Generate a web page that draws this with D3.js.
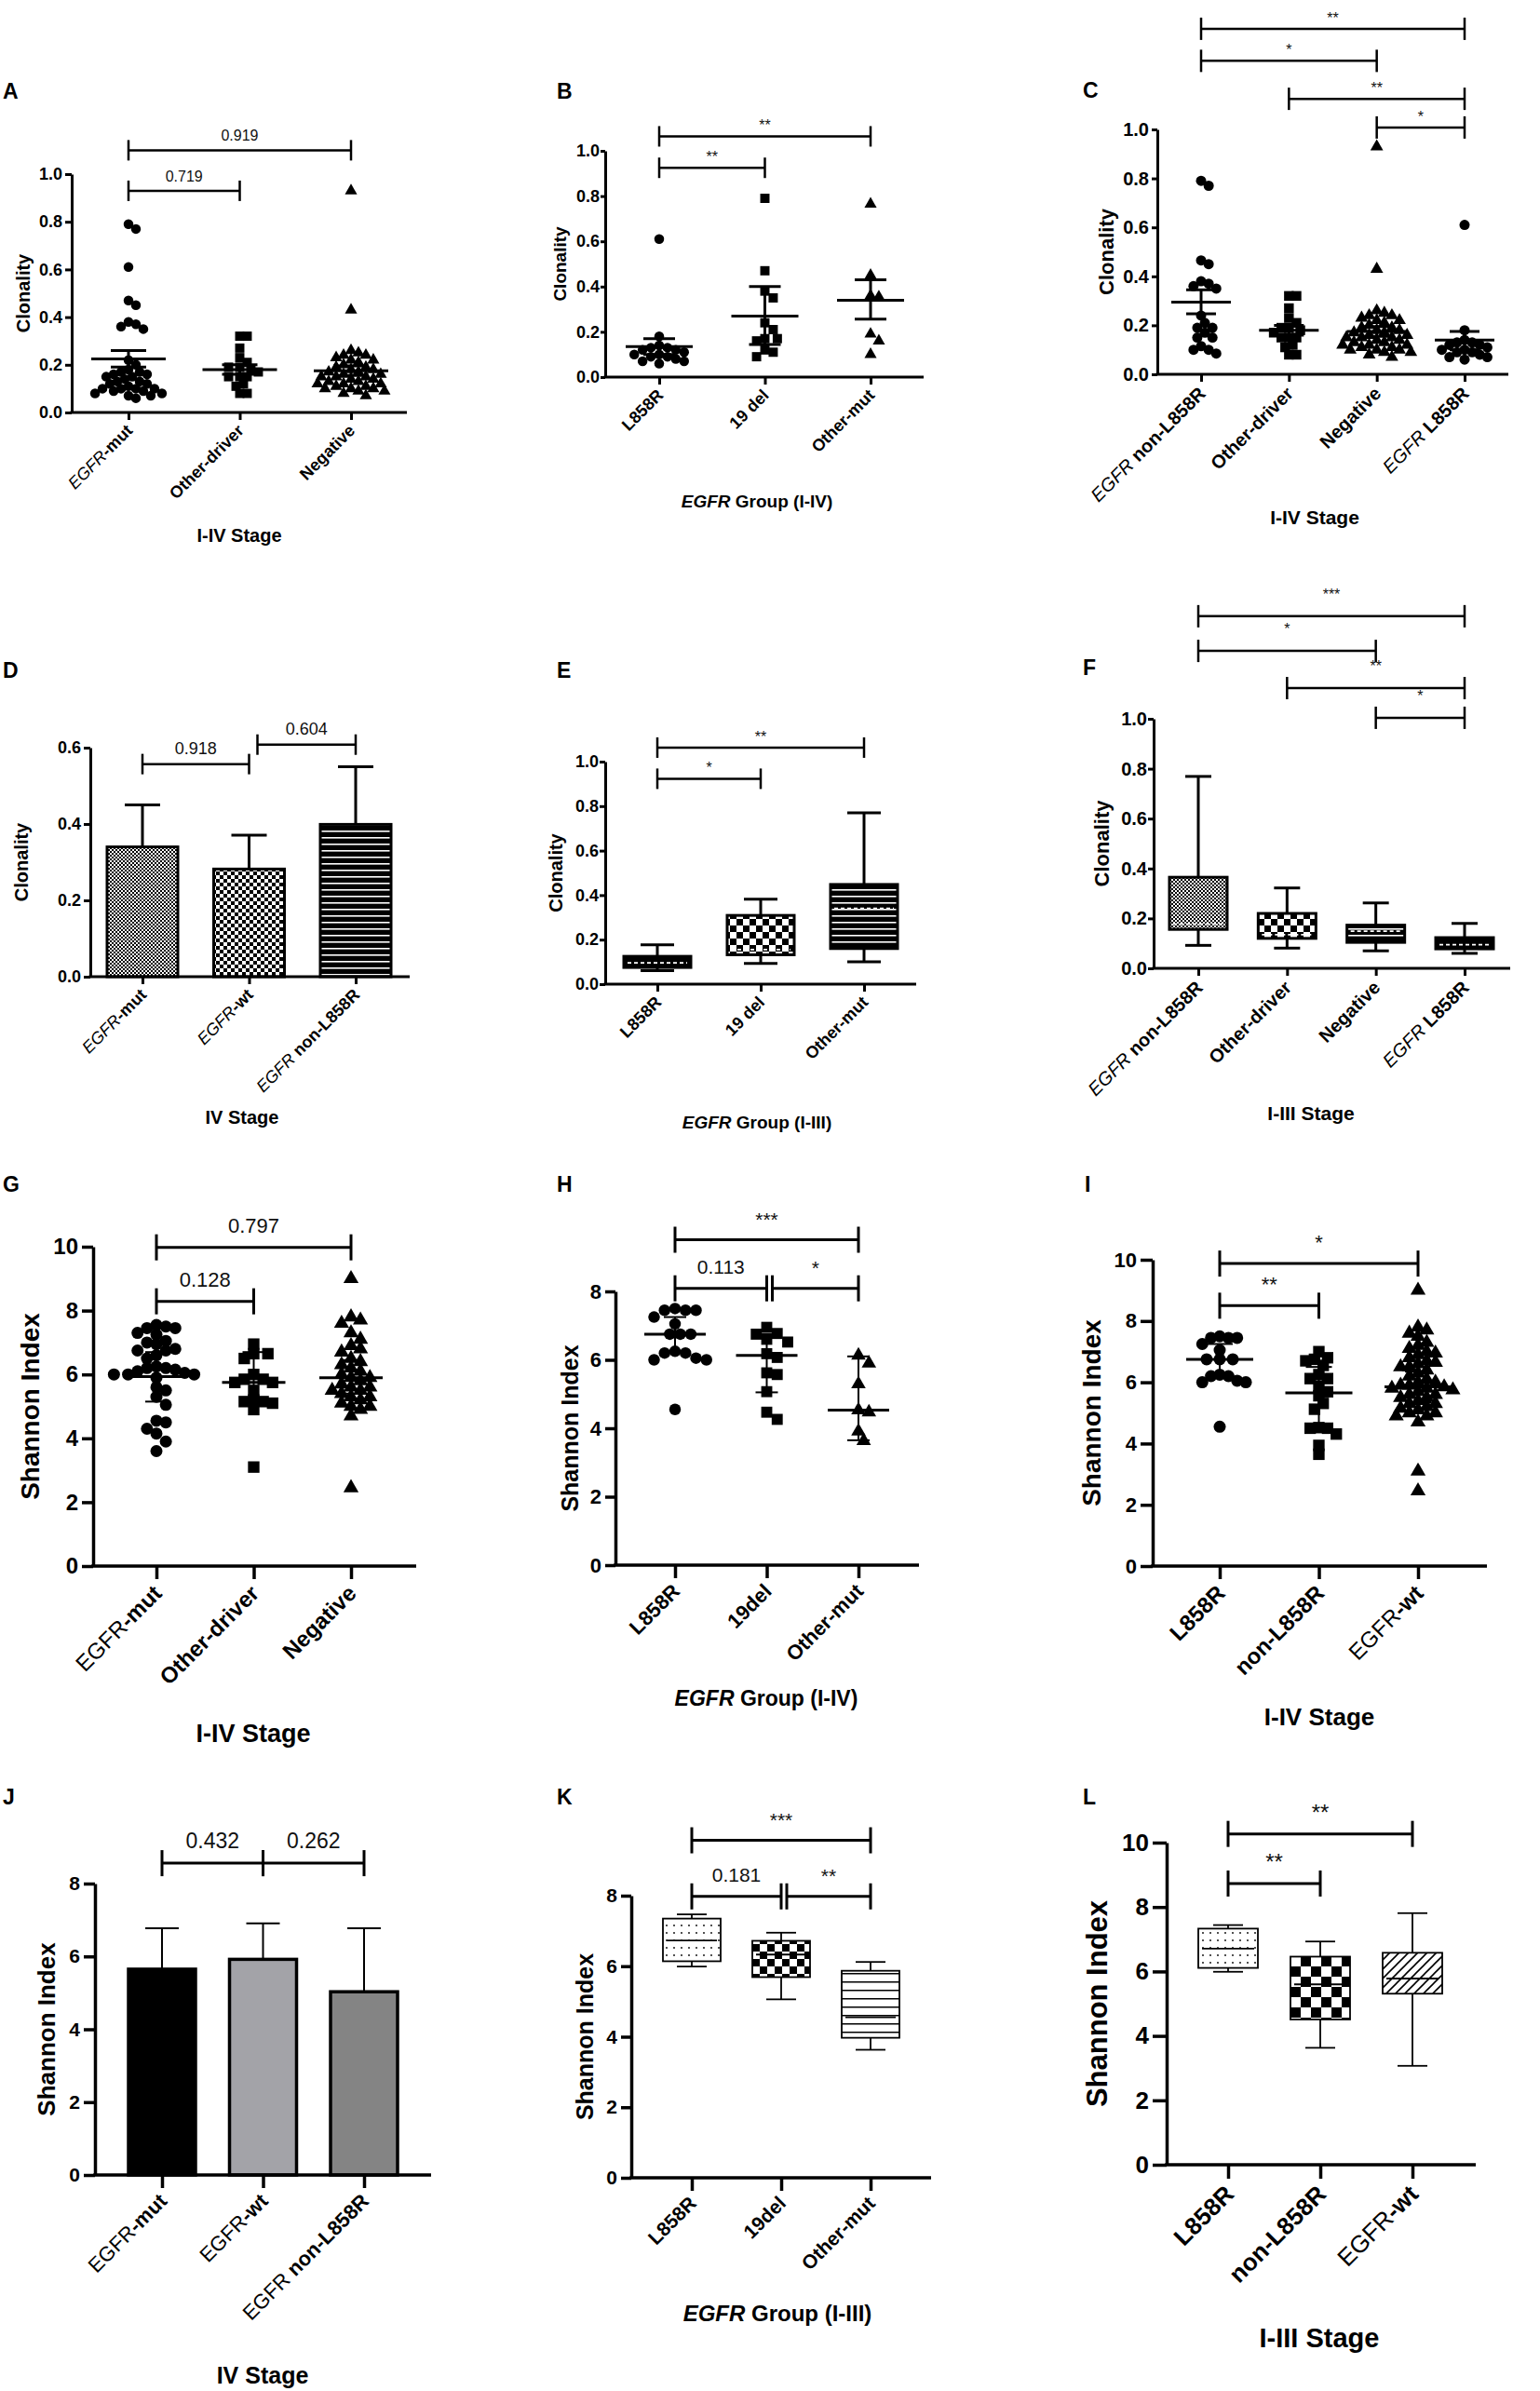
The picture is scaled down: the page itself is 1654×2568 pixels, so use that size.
<!DOCTYPE html>
<html>
<head>
<meta charset="utf-8">
<title>Clonality and Shannon index</title>
<script src="https://cdnjs.cloudflare.com/ajax/libs/d3/7.8.5/d3.min.js"></script>
<style>
  body { margin: 0; background: #fff; }
  text { font-family: "Liberation Sans", Arial, Helvetica, sans-serif; }
</style>
</head>
<body>
<script>
// ---------- data ----------
// A: clonality, I-IV stage
var aCats = ["EGFR-mut", "Other-driver", "Negative"];
var aEgfrMut = [0.79, 0.77, 0.61, 0.47, 0.45, 0.38, 0.37, 0.36, 0.35, 0.22, 0.20, 0.18, 0.17, 0.17, 0.16, 0.16, 0.15, 0.15, 0.14, 0.13, 0.13, 0.12, 0.12, 0.11, 0.10, 0.10, 0.10, 0.10, 0.09, 0.09, 0.08, 0.08, 0.07, 0.07, 0.06];
var aOtherDriver = [0.32, 0.32, 0.27, 0.23, 0.21, 0.19, 0.19, 0.18, 0.17, 0.15, 0.15, 0.15, 0.12, 0.11, 0.08, 0.08];
var aNegative = [0.93, 0.43, 0.26, 0.25, 0.24, 0.24, 0.23, 0.22, 0.22, 0.21, 0.20, 0.19, 0.19, 0.18, 0.18, 0.17, 0.17, 0.16, 0.16, 0.15, 0.15, 0.15, 0.14, 0.14, 0.13, 0.13, 0.12, 0.12, 0.12, 0.11, 0.11, 0.10, 0.10, 0.10, 0.09, 0.09, 0.08, 0.07];
var aMean = [0.225, 0.18, 0.175];
var aLow = [0.19, 0.16, 0.155];
var aHigh = [0.26, 0.20, 0.195];
var aPairs = [[0, 1], [0, 2]];
var aPairY = [0.93, 1.10];
var aPairText = ["0.719", "0.919"];

// B: clonality by EGFR group
var bCats = ["L858R", "19 del", "Other-mut"];
var bL858R = [0.61, 0.18, 0.14, 0.13, 0.13, 0.12, 0.12, 0.11, 0.10, 0.10, 0.09, 0.09, 0.08, 0.07, 0.07, 0.06];
var b19del = [0.79, 0.47, 0.38, 0.35, 0.24, 0.21, 0.17, 0.17, 0.16, 0.12, 0.11, 0.09];
var bOtherMut = [0.765, 0.45, 0.36, 0.355, 0.19, 0.16, 0.10];
var bMean = [0.135, 0.27, 0.34];
var bLow = [0.10, 0.144, 0.256];
var bHigh = [0.17, 0.40, 0.43];
var bPairs = [[0, 1], [0, 2]];
var bPairY = [0.925, 1.064];
var bPairText = ["**", "**"];

// C
var cCats = ["EGFR non-L858R", "Other-driver", "Negative", "EGFR L858R"];
var cNonL858R = [0.79, 0.77, 0.465, 0.45, 0.38, 0.37, 0.36, 0.35, 0.24, 0.21, 0.19, 0.19, 0.17, 0.15, 0.15, 0.115, 0.10, 0.10, 0.085];
var cMean = [0.295, 0.18, 0.175, 0.14];
var cLow = [0.247, 0.16, 0.155, 0.10];
var cHigh = [0.345, 0.20, 0.195, 0.175];
var cPairs = [[0, 3], [0, 2], [1, 3], [2, 3]];
var cPairY = [1.411, 1.28, 1.125, 1.008];
var cPairText = ["**", "*", "**", "*"];

// D: bars, IV stage
var dCats = ["EGFR-mut", "EGFR-wt", "EGFR non-L858R"];
var dMean = [0.34, 0.282, 0.399];
var dErr = [0.45, 0.371, 0.55];
var dPairs = [[0, 1], [1, 2]];
var dPairY = [0.557, 0.608];
var dPairText = ["0.918", "0.604"];

// E: boxes, I-III
var eCats = ["L858R", "19 del", "Other-mut"];
var eMin = [0.061, 0.093, 0.10];
var eQ1 = [0.075, 0.132, 0.16];
var eMed = [0.096, 0.155, 0.34];
var eQ3 = [0.125, 0.309, 0.448];
var eMax = [0.177, 0.382, 0.77];
var ePairs = [[0, 1], [0, 2]];
var ePairY = [0.923, 1.063];
var ePairText = ["*", "**"];

// F: boxes, I-III stage
var fCats = ["EGFR non-L858R", "Other-driver", "Negative", "EGFR L858R"];
var fMin = [0.092, 0.081, 0.07, 0.06];
var fQ1 = [0.156, 0.12, 0.104, 0.078];
var fMed = [0.178, 0.135, 0.149, 0.095];
var fQ3 = [0.365, 0.22, 0.173, 0.123];
var fMax = [0.769, 0.322, 0.262, 0.18];
var fPairs = [[0, 3], [0, 2], [1, 3], [2, 3]];
var fPairY = [1.411, 1.272, 1.123, 1.004];
var fPairText = ["***", "*", "**", "*"];

// G: Shannon index, I-IV stage
var gCats = ["EGFR-mut", "Other-driver", "Negative"];
var gEgfrMut = [7.55, 7.5, 7.45, 7.45, 7.3, 7.25, 7.05, 7.0, 6.95, 6.8, 6.75, 6.75, 6.6, 6.5, 6.25, 6.2, 6.2, 6.15, 6.1, 6.05, 6.0, 6.0, 6.0, 5.9, 5.6, 5.5, 5.3, 5.05, 4.55, 4.5, 4.3, 4.15, 3.9, 3.6];
var gOtherDriver = [6.95, 6.65, 6.65, 6.5, 6.0, 5.85, 5.85, 5.75, 5.75, 5.5, 5.2, 5.15, 5.15, 5.1, 4.9, 3.1];
var gNegative = [9.0, 7.8, 7.7, 7.6, 7.3, 7.1, 6.9, 6.8, 6.7, 6.5, 6.4, 6.3, 6.2, 6.1, 6.0, 5.9, 5.9, 5.8, 5.7, 5.6, 5.6, 5.5, 5.5, 5.4, 5.3, 5.3, 5.2, 5.1, 5.0, 5.0, 4.9, 4.7, 2.45];
var gMean = [5.93, 5.75, 5.9];
var gLow = [5.15, 5.2, 5.4];
var gHigh = [6.7, 6.7, 6.45];
var gPairs = [[0, 1], [0, 2]];
var gPairY = [8.29, 9.98];
var gPairText = ["0.128", "0.797"];

// H
var hCats = ["L858R", "19del", "Other-mut"];
var hL858R = [7.5, 7.45, 7.45, 7.45, 7.25, 7.05, 6.75, 6.75, 6.75, 6.25, 6.2, 6.2, 6.05, 6.0, 6.0, 4.55];
var h19del = [6.95, 6.77, 6.75, 6.6, 6.52, 6.18, 6.07, 5.62, 5.57, 5.07, 4.47, 4.26];
var hOtherMut = [6.13, 5.9, 5.29, 4.53, 4.47, 3.91, 3.63];
var hMean = [6.75, 6.13, 4.53];
var hLow = [6.25, 5.05, 3.65];
var hHigh = [7.25, 6.75, 6.1];
var hPairs = [[0, 1], [1, 2], [0, 2]];
var hPairY = [8.09, 8.09, 9.51];
var hPairText = ["0.113", "*", "***"];

// I
var iCats = ["L858R", "non-L858R", "EGFR-wt"];
var iNonL858R = [7.0, 6.8, 6.75, 6.7, 6.55, 6.25, 6.12, 6.12, 5.87, 5.69, 5.56, 5.31, 5.12, 4.52, 4.5, 4.5, 4.31, 3.94, 3.65];
var iEgfrWt = [9.0, 7.8, 7.7, 7.6, 7.5, 7.3, 7.2, 7.1, 7.0, 6.95, 6.9, 6.8, 6.7, 6.65, 6.6, 6.5, 6.5, 6.4, 6.3, 6.2, 6.1, 6.0, 6.0, 5.9, 5.9, 5.85, 5.8, 5.8, 5.75, 5.7, 5.6, 5.6, 5.5, 5.5, 5.4, 5.3, 5.3, 5.2, 5.15, 5.1, 5.0, 5.0, 4.9, 4.9, 4.7, 3.1, 2.45];
var iMean = [6.75, 5.65, 5.85];
var iLow = [6.25, 4.5, 5.35];
var iHigh = [7.25, 6.5, 6.35];
var iPairs = [[0, 1], [0, 2]];
var iPairY = [8.5, 9.875];
var iPairText = ["**", "*"];

// J: bars, IV stage
var jCats = ["EGFR-mut", "EGFR-wt", "EGFR non-L858R"];
var jMean = [5.65, 5.92, 5.03];
var jErr = [6.77, 6.91, 6.77];
var jPairs = [[0, 1], [1, 2]];
var jPairY = [8.56, 8.56];
var jPairText = ["0.432", "0.262"];

// K: boxes
var kCats = ["L858R", "19del", "Other-mut"];
var kMin = [5.99, 5.06, 3.63];
var kQ1 = [6.14, 5.69, 3.97];
var kMed = [6.73, 6.33, 4.55];
var kQ3 = [7.35, 6.72, 5.87];
var kMax = [7.47, 6.95, 6.12];
var kPairs = [[0, 1], [1, 2], [0, 2]];
var kPairY = [7.98, 7.98, 9.57];
var kPairText = ["0.181", "**", "***"];

// L: boxes
var lCats = ["L858R", "non-L858R", "EGFR-wt"];
var lMin = [5.99, 3.63, 3.07];
var lQ1 = [6.11, 4.51, 5.31];
var lMed = [6.71, 5.6, 5.78];
var lQ3 = [7.33, 6.46, 6.58];
var lMax = [7.44, 6.93, 7.81];
var lPairs = [[0, 1], [0, 2]];
var lPairY = [8.73, 10.27];
var lPairText = ["**", "**"];

var clonTicks = [0, 0.2, 0.4, 0.6, 0.8, 1.0];
var dTicks = [0, 0.2, 0.4, 0.6];
var shan10Ticks = [0, 2, 4, 6, 8, 10];
var shan8Ticks = [0, 2, 4, 6, 8];

// ---------- drawing ----------
var svg = d3.select("body").append("svg")
  .attr("width", 1654).attr("height", 2568);
svg.append("rect").attr("width", 1654).attr("height", 2568).attr("fill", "#fff");

var defs = svg.append("defs");
function pattern(id, w, h, draw) {
  var p = defs.append("pattern").attr("id", id)
    .attr("patternUnits", "userSpaceOnUse").attr("width", w).attr("height", h);
  draw(p);
}
function checker(id, n) {
  pattern(id, 2 * n, 2 * n, function (p) {
    p.append("rect").attr("width", 2 * n).attr("height", 2 * n).attr("fill", "#fff");
    p.append("rect").attr("width", n).attr("height", n).attr("fill", "#000");
    p.append("rect").attr("x", n).attr("y", n).attr("width", n).attr("height", n).attr("fill", "#000");
  });
}
checker("chk2", 2);
checker("chk4", 4);
checker("chk7", 7);
checker("chk8", 8);
checker("chk11", 11);
pattern("hBlack", 10, 7, function (p) {
  p.append("rect").attr("width", 10).attr("height", 7).attr("fill", "#000");
  p.append("rect").attr("y", 3).attr("width", 10).attr("height", 1.6).attr("fill", "#fff");
});
pattern("hWhite", 10, 9, function (p) {
  p.append("rect").attr("width", 10).attr("height", 9).attr("fill", "#fff");
  p.append("rect").attr("y", 4).attr("width", 10).attr("height", 1.5).attr("fill", "#000");
});
pattern("dots", 8, 8, function (p) {
  p.append("rect").attr("width", 8).attr("height", 8).attr("fill", "#fff");
  p.append("circle").attr("cx", 4).attr("cy", 4).attr("r", 0.9).attr("fill", "#000");
});
pattern("diag", 10, 10, function (p) {
  p.append("rect").attr("width", 10).attr("height", 10).attr("fill", "#fff");
  p.append("path").attr("d", "M-1,1 L1,-1 M0,10 L10,0 M9,11 L11,9")
    .attr("stroke", "#000").attr("stroke-width", 1.6);
});

var shapeType = { circle: d3.symbolCircle, square: d3.symbolSquare, triangle: d3.symbolTriangle };
function shapeArea(s, d) {
  if (s === "circle") return Math.PI * d * d / 4;
  if (s === "square") return d * d * 0.9;
  return Math.pow(d * 1.25, 2) * Math.sqrt(3) / 4;
}

// simple beeswarm; pack < 1 lets markers overlap like the original scatter
function swarm(vals, y, cx, d, pack) {
  var pts = vals.map(function (v) { return { v: v, y: y(v) }; })
    .sort(function (a, b) { return a.y - b.y; });
  var placed = [];
  var lim = (d * pack) * (d * pack);
  pts.forEach(function (p) {
    var k = 0, x;
    while (true) {
      var off = k === 0 ? 0 : Math.ceil(k / 2) * (k % 2 ? 1 : -1) * d * pack * 0.5;
      x = cx + off;
      var hit = placed.some(function (q) {
        return (q.x - x) * (q.x - x) + (q.y - p.y) * (q.y - p.y) < lim;
      });
      if (!hit || k > 80) break;
      k++;
    }
    p.x = x;
    placed.push(p);
  });
  return placed;
}

function addLabel(sel, label, egfrStyle) {
  if (label.indexOf("EGFR") === 0) {
    var sp = label.indexOf("EGFR ") === 0;
    sel.append("tspan").attr("font-weight", "normal")
      .attr("font-style", egfrStyle).text(sp ? "EGFR\u00a0" : "EGFR");
    sel.append("tspan").attr("font-weight", "bold").text(label.slice(sp ? 5 : 4));
  } else {
    sel.append("tspan").attr("font-weight", "bold").text(label);
  }
}

function hline(g, x1, x2, y, w) {
  g.append("line").attr("x1", x1).attr("x2", x2).attr("y1", y).attr("y2", y)
    .attr("stroke", "#000").attr("stroke-width", w);
}
function vline(g, x, y1, y2, w) {
  g.append("line").attr("x1", x).attr("x2", x).attr("y1", y1).attr("y2", y2)
    .attr("stroke", "#000").attr("stroke-width", w);
}

var small = { tick: 18, cat: 18, yt: 20, xt: 20, br: 16, aw: 3, tl: 7, xtl: 8, pad: 3, bw: 2.5, bh: 11, offNum: 10, offStar: 6 };
var big = { tick: 24, cat: 24, yt: 28, xt: 27, br: 22, aw: 3.5, tl: 12, xtl: 14, pad: 4, bw: 3, bh: 14, offNum: 16, offStar: 15 };
function st(base, extra) { return Object.assign({}, base, extra); }

var panels = [
  { letter: "A", lx: 3, ly: 106, type: "scatter", cats: aCats, series: [aEgfrMut, aOtherDriver, aNegative],
    shapes: ["circle", "square", "triangle"], mean: aMean, low: aLow, high: aHigh,
    ticks: clonTicks, fmt: ".1f", pairs: aPairs, pairY: aPairY, pairText: aPairText,
    ylabel: "Clonality", xtitle: "I-IV Stage", italic: "italic",
    lay: { xl: 77, xr: 437, t0: 138, t1: 377, yTop: 187, y0: 443, vTop: 1, ylx: 25, xtx: 257, xty: 582 },
    s: st(small, { d: 10.5, pack: 0.76, meanHalf: 40, capHalf: 19, meanW: 3, errW: 3 }) },
  { letter: "B", lx: 598, ly: 106, type: "scatter", cats: bCats, series: [bL858R, b19del, bOtherMut],
    shapes: ["circle", "square", "triangle"], mean: bMean, low: bLow, high: bHigh,
    ticks: clonTicks, fmt: ".1f", pairs: bPairs, pairY: bPairY, pairText: bPairText,
    ylabel: "Clonality", xtitle: "EGFR Group (I-IV)", italic: "italic",
    lay: { xl: 650, xr: 992, t0: 708, t1: 935, yTop: 162, y0: 405, vTop: 1, ylx: 601, xtx: 813, xty: 545 },
    s: st(small, { d: 10.5, pack: 0.85, meanHalf: 36, capHalf: 17, meanW: 3, errW: 3, yt: 19, xt: 19, tl: 5, pad: 1 }) },
  { letter: "C", lx: 1163, ly: 105, type: "scatter", cats: cCats, series: [cNonL858R, aOtherDriver, aNegative, bL858R],
    shapes: ["circle", "square", "triangle", "circle"], mean: cMean, low: cLow, high: cHigh,
    ticks: clonTicks, fmt: ".1f", pairs: cPairs, pairY: cPairY, pairText: cPairText,
    ylabel: "Clonality", xtitle: "I-IV Stage", italic: "italic",
    lay: { xl: 1243, xr: 1620, t0: 1290, t1: 1573, yTop: 139, y0: 402, vTop: 1, ylx: 1188, xtx: 1412, xty: 563 },
    s: st(small, { d: 11, pack: 0.74, meanHalf: 32, capHalf: 16, meanW: 3, errW: 3, tick: 20, cat: 20, yt: 22, xt: 21, bh: 12, tl: 6 }) },
  { letter: "D", lx: 3, ly: 728, type: "bar", cats: dCats, mean: dMean, err: dErr,
    fills: ["url(#chk2)", "url(#chk4)", "url(#hBlack)"], barHalf: 38,
    ticks: dTicks, fmt: ".1f", pairs: dPairs, pairY: dPairY, pairText: dPairText, gap: 9,
    ylabel: "Clonality", xtitle: "IV Stage", italic: "italic",
    lay: { xl: 97, xr: 440, t0: 153, t1: 382, yTop: 803, y0: 1049, vTop: 0.6, ylx: 23, xtx: 260, xty: 1207 },
    s: st(small, { capHalf: 19, errW: 3, barW: 3, br: 18, offNum: 11 }) },
  { letter: "E", lx: 598, ly: 728, type: "box", cats: eCats, min: eMin, q1: eQ1, med: eMed, q3: eQ3, max: eMax,
    fills: ["#000", "url(#chk7)", "url(#hBlack)"], medColor: "#fff", medDash: "4,3", boxHalf: 36,
    ticks: clonTicks, fmt: ".1f", pairs: ePairs, pairY: ePairY, pairText: ePairText,
    ylabel: "Clonality", xtitle: "EGFR Group (I-III)", italic: "italic",
    lay: { xl: 650, xr: 984, t0: 706, t1: 928, yTop: 818, y0: 1057, vTop: 1, ylx: 597, xtx: 813, xty: 1212 },
    s: st(small, { capHalf: 18, boxW: 3, yt: 20, xt: 19, tl: 6, pad: 1 }) },
  { letter: "F", lx: 1163, ly: 725, type: "box", cats: fCats, min: fMin, q1: fQ1, med: fMed, q3: fQ3, max: fMax,
    fills: ["url(#chk2)", "url(#chk7)", "url(#hBlack)", "#000"], medColor: "#fff", medDash: "4,3", boxHalf: 31,
    ticks: clonTicks, fmt: ".1f", pairs: fPairs, pairY: fPairY, pairText: fPairText,
    ylabel: "Clonality", xtitle: "I-III Stage", italic: "italic",
    lay: { xl: 1239, xr: 1622, t0: 1287, t1: 1573, yTop: 772, y0: 1040, vTop: 1, ylx: 1183, xtx: 1408, xty: 1203 },
    s: st(small, { capHalf: 14, boxW: 3, tick: 20, cat: 20, yt: 22, xt: 21, bh: 12, offStar: 18, tl: 6, pad: 1 }) },
  { letter: "G", lx: 3, ly: 1280, type: "scatter", cats: gCats, series: [gEgfrMut, gOtherDriver, gNegative],
    shapes: ["circle", "square", "triangle"], mean: gMean, low: gLow, high: gHigh,
    ticks: shan10Ticks, fmt: "d", pairs: gPairs, pairY: gPairY, pairText: gPairText,
    ylabel: "Shannon Index", xtitle: "I-IV Stage", italic: "normal",
    lay: { xl: 100, xr: 447, t0: 168, t1: 377, yTop: 1339, y0: 1682, vTop: 10, ylx: 32, xtx: 272, xty: 1871 },
    s: st(big, { d: 13, pack: 0.78, meanHalf: 34, capHalf: 12, meanW: 3, errW: 2 }) },
  { letter: "H", lx: 598, ly: 1280, type: "scatter", cats: hCats, series: [hL858R, h19del, hOtherMut],
    shapes: ["circle", "square", "triangle"], mean: hMean, low: hLow, high: hHigh,
    ticks: shan8Ticks, fmt: "d", pairs: hPairs, pairY: hPairY, pairText: hPairText, gap: 6,
    ylabel: "Shannon Index", xtitle: "EGFR Group (I-IV)", italic: "normal",
    lay: { xl: 661, xr: 987, t0: 725, t1: 922, yTop: 1387, y0: 1681, vTop: 8, ylx: 612, xtx: 823, xty: 1832 },
    s: st(big, { d: 12.5, pack: 0.9, meanHalf: 33, capHalf: 12, meanW: 3, errW: 2, tick: 22, cat: 22, yt: 25, xt: 23, br: 21, tl: 11 }) },
  { letter: "I", lx: 1165, ly: 1280, type: "scatter", cats: iCats, series: [hL858R, iNonL858R, iEgfrWt],
    shapes: ["circle", "square", "triangle"], mean: iMean, low: iLow, high: iHigh,
    ticks: shan10Ticks, fmt: "d", pairs: iPairs, pairY: iPairY, pairText: iPairText,
    ylabel: "Shannon Index", xtitle: "I-IV Stage", italic: "normal",
    lay: { xl: 1238, xr: 1597, t0: 1310, t1: 1523, yTop: 1353, y0: 1682, vTop: 10, ylx: 1172, xtx: 1417, xty: 1853 },
    s: st(big, { d: 13, pack: 0.72, meanHalf: 36, capHalf: 14, meanW: 3, errW: 2, tick: 22, cat: 24, yt: 28, xt: 26, tl: 13 }) },
  { letter: "J", lx: 3, ly: 1938, type: "bar", cats: jCats, mean: jMean, err: jErr,
    fills: ["#000", "#a3a3a8", "#848484"], barHalf: 36,
    ticks: shan8Ticks, fmt: "d", pairs: jPairs, pairY: jPairY, pairText: jPairText,
    ylabel: "Shannon Index", xtitle: "IV Stage", italic: "normal",
    lay: { xl: 102, xr: 463, t0: 174, t1: 391, yTop: 2023, y0: 2336, vTop: 8, ylx: 50, xtx: 282, xty: 2560 },
    s: st(big, { capHalf: 18, errW: 2, barW: 3.5, tick: 21, cat: 22, yt: 26, xt: 25, br: 23 }) },
  { letter: "K", lx: 598, ly: 1938, type: "box", cats: kCats, min: kMin, q1: kQ1, med: kMed, q3: kQ3, max: kMax,
    fills: ["url(#dots)", "url(#chk8)", "url(#hWhite)"], medColor: "#000", medDash: null, boxHalf: 31,
    ticks: shan8Ticks, fmt: "d", pairs: kPairs, pairY: kPairY, pairText: kPairText, gap: 6,
    ylabel: "Shannon Index", xtitle: "EGFR Group (I-III)", italic: "normal",
    lay: { xl: 678, xr: 1000, t0: 743, t1: 935, yTop: 2036, y0: 2339, vTop: 8, ylx: 628, xtx: 835, xty: 2493 },
    s: st(big, { capHalf: 16, boxW: 1.8, tick: 21, cat: 21, yt: 25, xt: 24, br: 21, tl: 11 }) },
  { letter: "L", lx: 1163, ly: 1938, type: "box", cats: lCats, min: lMin, q1: lQ1, med: lMed, q3: lQ3, max: lMax,
    fills: ["url(#dots)", "url(#chk11)", "url(#diag)"], medColor: "#000", medDash: null, boxHalf: 32,
    ticks: shan10Ticks, fmt: "d", pairs: lPairs, pairY: lPairY, pairText: lPairText,
    ylabel: "Shannon Index", xtitle: "I-III Stage", italic: "normal",
    lay: { xl: 1253, xr: 1585, t0: 1319, t1: 1517, yTop: 1979, y0: 2325, vTop: 10, ylx: 1178, xtx: 1417, xty: 2521 },
    s: st(big, { capHalf: 16, boxW: 1.8, tick: 26, cat: 26, yt: 31, xt: 29, br: 24, tl: 15, xtl: 15 }) }
];

panels.forEach(function (p) {
  var L = p.lay, s = p.s;
  var g = svg.append("g").attr("class", "panel-" + p.letter);
  var y = d3.scaleLinear().domain([0, L.vTop]).range([L.y0, L.yTop]);
  var x = d3.scalePoint().domain(d3.range(p.cats.length)).range([L.t0, L.t1]);

  if (p.type === "scatter") {
    p.series.forEach(function (vals, i) {
      var pts = swarm(vals, y, x(i), s.d, s.pack);
      var sym = d3.symbol().type(shapeType[p.shapes[i]]).size(shapeArea(p.shapes[i], s.d));
      g.append("g").selectAll("path").data(pts).enter().append("path")
        .attr("transform", function (d) { return "translate(" + d.x + "," + d.y + ")"; })
        .attr("d", sym).attr("fill", "#000");
    });
    p.cats.forEach(function (c, i) {
      var cx = x(i);
      vline(g, cx, y(p.low[i]), y(p.high[i]), s.errW);
      hline(g, cx - s.capHalf, cx + s.capHalf, y(p.low[i]), s.errW);
      hline(g, cx - s.capHalf, cx + s.capHalf, y(p.high[i]), s.errW);
      hline(g, cx - s.meanHalf, cx + s.meanHalf, y(p.mean[i]), s.meanW);
    });
  }

  if (p.type === "bar") {
    p.cats.forEach(function (c, i) {
      var cx = x(i);
      vline(g, cx, y(p.mean[i]), y(p.err[i]), s.errW);
      hline(g, cx - s.capHalf, cx + s.capHalf, y(p.err[i]), s.errW);
      g.append("rect").attr("x", cx - p.barHalf).attr("y", y(p.mean[i]))
        .attr("width", 2 * p.barHalf).attr("height", L.y0 - y(p.mean[i]))
        .attr("fill", p.fills[i]).attr("stroke", "#000").attr("stroke-width", s.barW);
    });
  }

  if (p.type === "box") {
    p.cats.forEach(function (c, i) {
      var cx = x(i);
      vline(g, cx, y(p.max[i]), y(p.q3[i]), s.boxW);
      vline(g, cx, y(p.q1[i]), y(p.min[i]), s.boxW);
      hline(g, cx - s.capHalf, cx + s.capHalf, y(p.max[i]), s.boxW);
      hline(g, cx - s.capHalf, cx + s.capHalf, y(p.min[i]), s.boxW);
      g.append("rect").attr("x", cx - p.boxHalf).attr("y", y(p.q3[i]))
        .attr("width", 2 * p.boxHalf).attr("height", y(p.q1[i]) - y(p.q3[i]))
        .attr("fill", p.fills[i]).attr("stroke", "#000").attr("stroke-width", s.boxW);
      g.append("line").attr("x1", cx - p.boxHalf + 4).attr("x2", cx + p.boxHalf - 4)
        .attr("y1", y(p.med[i])).attr("y2", y(p.med[i]))
        .attr("stroke", p.medColor).attr("stroke-width", 1.8)
        .attr("stroke-dasharray", p.medDash);
    });
  }

  // y axis
  var ya = g.append("g").attr("transform", "translate(" + L.xl + ",0)")
    .call(d3.axisLeft(y).tickValues(p.ticks).tickFormat(d3.format(p.fmt))
      .tickSize(s.tl).tickPadding(s.pad).tickSizeOuter(0));
  ya.select(".domain").attr("stroke-width", s.aw);
  ya.selectAll(".tick line").attr("stroke-width", s.aw);
  ya.selectAll(".tick text").attr("font-family", '"Liberation Sans", Arial, sans-serif')
    .attr("font-weight", "bold").attr("font-size", s.tick).attr("fill", "#000");

  // x axis
  hline(g, L.xl - s.aw / 2, L.xr, L.y0, s.aw);
  var xa = g.append("g").attr("transform", "translate(0," + L.y0 + ")")
    .call(d3.axisBottom(x).tickSize(s.xtl).tickSizeOuter(0).tickFormat(""));
  xa.select(".domain").remove();
  xa.selectAll(".tick line").attr("stroke-width", s.aw);

  p.cats.forEach(function (c, i) {
    var t = g.append("text")
      .attr("transform", "translate(" + (x(i) + 0.3 * s.cat) + "," + (L.y0 + s.xtl + 0.7 * s.cat) + ") rotate(-45)")
      .attr("text-anchor", "end").attr("font-size", s.cat).attr("fill", "#000");
    addLabel(t, c, p.italic);
  });

  // axis titles
  g.append("text")
    .attr("transform", "translate(" + L.ylx + "," + ((L.y0 + L.yTop) / 2) + ") rotate(-90)")
    .attr("dy", "0.35em").attr("text-anchor", "middle")
    .attr("font-weight", "bold").attr("font-size", s.yt).text(p.ylabel);
  var xt = g.append("text").attr("x", L.xtx).attr("y", L.xty)
    .attr("text-anchor", "middle").attr("font-weight", "bold").attr("font-size", s.xt);
  if (p.xtitle.indexOf("EGFR") === 0) {
    xt.append("tspan").attr("font-style", "italic").text("EGFR\u00a0");
    xt.append("tspan").text(p.xtitle.slice(5));
  } else {
    xt.text(p.xtitle);
  }

  // significance brackets
  p.pairs.forEach(function (pr, k) {
    var shared = p.pairs.some(function (q) { return q[1] === pr[0]; });
    var xa1 = x(pr[0]) + (shared && p.gap ? p.gap : 0);
    var xb1 = x(pr[1]);
    var by = y(p.pairY[k]);
    hline(g, xa1, xb1, by, s.bw);
    vline(g, xa1, by - s.bh, by + s.bh, s.bw);
    vline(g, xb1, by - s.bh, by + s.bh, s.bw);
    var star = p.pairText[k].charAt(0) === "*";
    g.append("text").attr("x", (xa1 + xb1) / 2)
      .attr("y", by - (star ? s.offStar : s.offNum))
      .attr("text-anchor", "middle").attr("font-size", s.br).attr("fill", "#111")
      .text(p.pairText[k]);
  });

  // panel letter
  svg.append("text").attr("x", p.lx).attr("y", p.ly)
    .attr("font-weight", "bold").attr("font-size", 23).text(p.letter);
});
</script>
</body>
</html>
